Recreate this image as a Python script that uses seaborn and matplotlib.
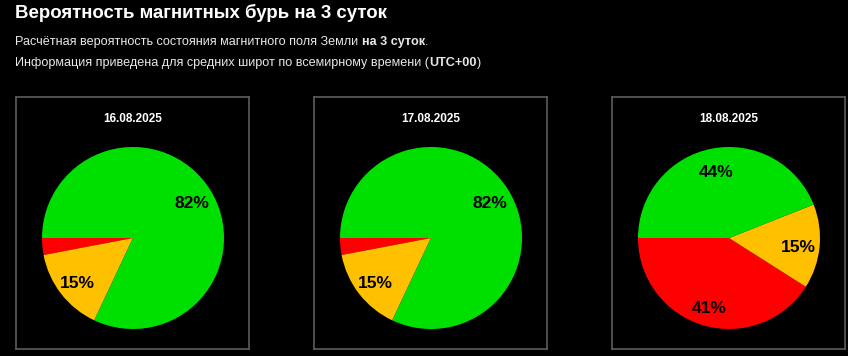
import matplotlib
matplotlib.use("Agg")
import matplotlib.pyplot as plt
import seaborn as sns

# ---- data ----
dates = ["16.08.2025", "17.08.2025", "18.08.2025"]
categories = ["Буря", "Возмущение", "Спокойно"]
storm = [3, 3, 41]
unsettled = [15, 15, 15]
quiet = [82, 82, 44]
colors = ["#ff0000", "#ffc000", "#00e000"]

title = "Вероятность магнитных бурь на 3 суток"
sub1 = [("Расчётная вероятность состояния магнитного поля Земли ", "normal"),
        ("на 3 суток", "bold"), (".", "normal")]
sub2 = [("Информация приведена для средних широт по всемирному времени (", "normal"),
        ("UTC+00", "bold"), (")", "normal")]

sns.set_theme(style="dark")
plt.rcParams["font.family"] = ["Liberation Sans", "DejaVu Sans"]

W, H = 848, 356
DPI = 100
fig = plt.figure(figsize=(W / DPI, H / DPI), dpi=DPI, facecolor="black")

def px_text(x, y, s, **kw):
    return fig.text(x / W, 1 - y / H, s, **kw)

px_text(15, 13, title, color="white", fontsize=13.4, fontweight="bold", va="center", ha="left")

renderer = fig.canvas.get_renderer()
for parts, yy in ((sub1, 42), (sub2, 63)):
    x = 15
    for s, w in parts:
        t = px_text(x, yy, s, color="#e8e8e8", fontsize=9.1, fontweight=w, va="center", ha="left")
        bb = t.get_window_extent(renderer=renderer)
        x += bb.width

box_x = [16, 314, 612]
box_w = 233
box_top, box_bot = 97, 349
box_h = box_bot - box_top
cx_off = 117
cy_from_top = 141
radius = 91

for i, d in enumerate(dates):
    ax = fig.add_axes([box_x[i] / W, 1 - box_bot / H, box_w / W, box_h / H])
    ax.set_facecolor("black")
    ax.set_xlim(0, box_w)
    ax.set_ylim(0, box_h)
    vals = [storm[i], unsettled[i], quiet[i]]
    wedges, texts, autotexts = ax.pie(
        vals, colors=colors, startangle=180, counterclock=True,
        center=(cx_off, box_h - cy_from_top), radius=radius,
        autopct=lambda p: f"{p:.0f}%" if p >= 5 else "",
        pctdistance=0.77, frame=True,
        wedgeprops=dict(linewidth=0),
        textprops=dict(color="black", fontsize=12.5, fontweight="bold"),
    )
    for t in autotexts:
        x0, y0 = t.get_position()
        t.set_position((x0, y0 - 3))
    ax.set_xlim(0, box_w)
    ax.set_ylim(0, box_h)
    ax.set_xticks([])
    ax.set_yticks([])
    for sp in ax.spines.values():
        sp.set_visible(True)
        sp.set_color("#5c5c5c")
        sp.set_linewidth(1.2)
    ax.text(cx_off, box_h - 22, d, color="white", fontsize=8.5, fontweight="bold",
            ha="center", va="center")

fig.savefig("out.png", dpi=DPI, facecolor="black")
